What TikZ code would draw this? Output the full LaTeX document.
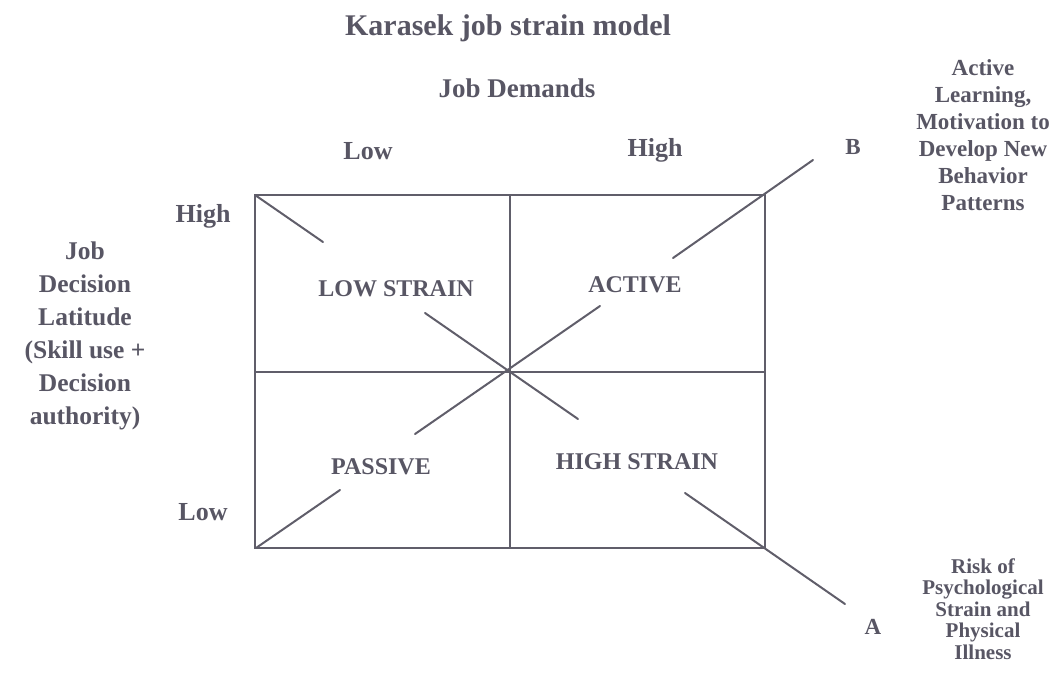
\documentclass[tikz,border=0pt]{standalone}
\usepackage{fontspec}
\setmainfont{Liberation Serif}
\definecolor{ink}{RGB}{88,86,100}
\definecolor{rulec}{RGB}{96,94,106}
\begin{document}
\begin{tikzpicture}[x=1pt,y=-1pt,
  txt/.style={text=ink, inner sep=0pt, font=\bfseries\fontsize{#1}{#1}\selectfont},
  blk/.style 2 args={text=ink, inner sep=0pt, align=center,
     font=\bfseries\fontsize{#1}{#2}\selectfont},
  gridline/.style={draw=rulec, line width=1.4pt},
  diag/.style={draw=rulec, line width=2pt, line cap=round}]
\useasboundingbox (0,0) rectangle (1057,686);

% grid
\coordinate (TL) at (255,195);
\coordinate (TR) at (765,195);
\coordinate (BL) at (255,548);
\coordinate (BR) at (765,548);
\coordinate (MT) at (510,195);
\coordinate (MB) at (510,548);
\coordinate (ML) at (255,372);
\coordinate (MR) at (765,372);
\draw[gridline] (TL) rectangle (BR);
\draw[gridline] (MT) -- (MB);
\draw[gridline] (ML) -- (MR);

% diagonal 1 (top-left to A)
\coordinate (d1a) at (255,195);
\coordinate (d1b) at (323,242);
\coordinate (d1c) at (425,313);
\coordinate (d1d) at (578,419);
\coordinate (d1e) at (685,493);
\coordinate (d1f) at (845,604);
\draw[diag] (d1a) -- (d1b);
\draw[diag] (d1c) -- (d1d);
\draw[diag] (d1e) -- (d1f);

% diagonal 2 (bottom-left to B)
\coordinate (d2a) at (256,548);
\coordinate (d2b) at (340,490);
\coordinate (d2c) at (415,434);
\coordinate (d2d) at (600,306);
\coordinate (d2e) at (673,258);
\coordinate (d2f) at (813,160);
\draw[diag] (d2a) -- (d2b);
\draw[diag] (d2c) -- (d2d);
\draw[diag] (d2e) -- (d2f);

% titles
\node[txt=30] (title) at (508,28) {Karasek job strain model};
\node[txt=27] (demands) at (517,88) {Job Demands};
\node[txt=26] (lowtop) at (368,151) {Low};
\node[txt=26] (hightop) at (655,150) {High};
\node[txt=26] (highleft) at (203,216) {High};
\node[txt=26] (lowleft) at (203,512) {Low};

% quadrant labels
\node[txt=24] (lowstrain) at (396,289) {LOW STRAIN};
\node[txt=24] (active) at (635,285) {ACTIVE};
\node[txt=24] (passive) at (381,467) {PASSIVE};
\node[txt=24] (highstrain) at (637,462) {HIGH STRAIN};

% side texts
\node[blk={25.5}{33}] (latitude) at (85,336)
  {Job\\Decision\\Latitude\\(Skill use +\\Decision\\authority)};
\node[blk={23}{27}] (learning) at (983,135)
  {Active\\Learning,\\Motivation to\\Develop New\\Behavior\\Patterns};
\node[blk={21}{21.5}] (risk) at (983,609)
  {Risk of\\Psychological\\Strain and\\Physical\\Illness};
\node[txt=23] (B) at (853,147) {B};
\node[txt=23] (A) at (873,627) {A};
\end{tikzpicture}
\end{document}
